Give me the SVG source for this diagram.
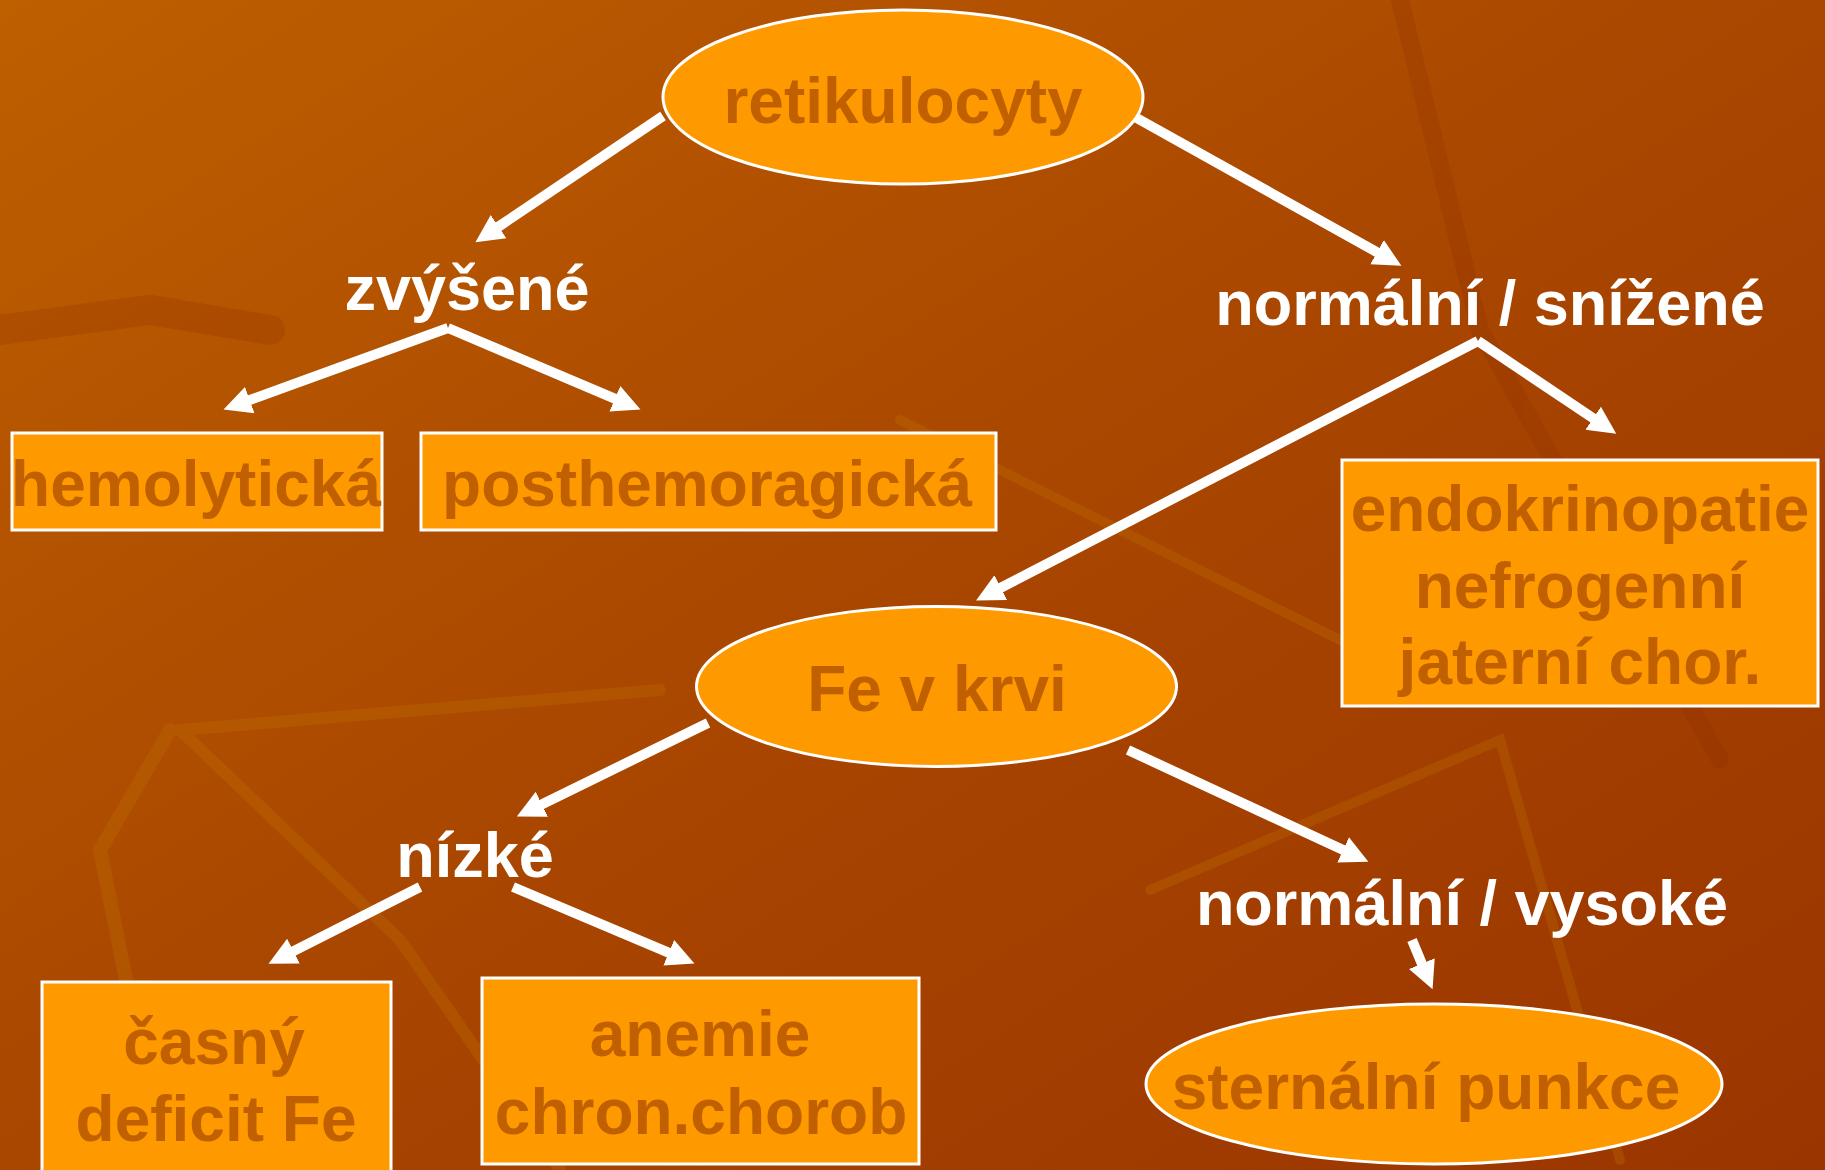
<svg xmlns="http://www.w3.org/2000/svg" width="1825" height="1170" viewBox="0 0 1825 1170">
<defs>
<linearGradient id="bg" x1="0" y1="0" x2="1" y2="1">
<stop offset="0" stop-color="#BE5F00"/>
<stop offset="0.5" stop-color="#A94600"/>
<stop offset="1" stop-color="#9A3500"/>
</linearGradient>
<marker id="ah" markerUnits="userSpaceOnUse" markerWidth="30" markerHeight="30" viewBox="0 -14 28 28" refX="4" refY="0" orient="auto">
<path d="M0,-13 L26,0 L0,13 z" fill="#FFFFFF"/>
</marker>
<style>
.node{fill:#FF9900;stroke:#FFFFFF;stroke-width:3}
.nt{font-family:"Liberation Sans",Arial,sans-serif;font-weight:bold;font-size:64px;fill:#C06000;text-anchor:middle}
.lb{font-family:"Liberation Sans",Arial,sans-serif;font-weight:bold;font-size:63px;fill:#FFFFFF;text-anchor:middle}
.cn{stroke:#FFFFFF;stroke-width:10;fill:none;marker-end:url(#ah)}
</style>
</defs>
<rect x="0" y="0" width="1825" height="1170" fill="url(#bg)"/>
<g id="background-texture" fill="none" stroke-linecap="round" opacity="0.25">
<path d="M0,330 L150,310 L270,330" stroke="#8E2E00" stroke-width="30"/>
<path d="M170,730 L100,850 L130,1000" stroke="#C27A00" stroke-width="14"/>
<path d="M180,730 L400,940 L560,1170" stroke="#C27A00" stroke-width="12"/>
<path d="M180,730 L660,690" stroke="#C27A00" stroke-width="12"/>
<path d="M1400,0 L1480,330 L1720,760" stroke="#8E2E00" stroke-width="18"/>
<path d="M900,420 L1340,640" stroke="#C27A00" stroke-width="10"/>
<path d="M1150,890 L1500,740 L1620,1160" stroke="#C27A00" stroke-width="10"/>
</g>
<g id="connectors">
<line class="cn" x1="663" y1="116" x2="495" y2="229"/>
<line class="cn" x1="1133" y1="116" x2="1380.8" y2="254.3"/>
<line class="cn" x1="448" y1="328" x2="245.7" y2="401.5"/>
<line class="cn" x1="448" y1="328" x2="618.8" y2="400.4"/>
<line class="cn" x1="1478" y1="341" x2="1596.7" y2="420.7"/>
<line class="cn" x1="1478" y1="341" x2="997" y2="589.7"/>
<line class="cn" x1="708" y1="723" x2="538" y2="806.2"/>
<line class="cn" x1="1128" y1="750" x2="1347" y2="851.7"/>
<line class="cn" x1="420" y1="887" x2="289.6" y2="953.1"/>
<line class="cn" x1="513" y1="887" x2="672.7" y2="954.4"/>
<line class="cn" x1="1412" y1="940" x2="1423.5" y2="967.6"/>
</g>
<g id="retikulocyty">
<ellipse class="node" cx="903" cy="97" rx="240" ry="87"/>
<text class="nt" x="903" y="123">retikulocyty</text>
</g>
<g id="zvysene">
<text class="lb" x="467" y="310">zvýšené</text>
</g>
<g id="normalni-snizene">
<text class="lb" x="1490" y="325">normální / snížené</text>
</g>
<g id="hemolyticka">
<rect class="node" x="12" y="433" width="370" height="97"/>
<text class="nt" x="196" y="506">hemolytická</text>
</g>
<g id="posthemoragicka">
<rect class="node" x="421" y="433" width="575" height="97"/>
<text class="nt" x="707" y="506">posthemoragická</text>
</g>
<g id="endokrinopatie">
<rect class="node" x="1342" y="460" width="476" height="246"/>
<text class="nt" x="1580" y="531">endokrinopatie</text>
<text class="nt" x="1580" y="608">nefrogenní</text>
<text class="nt" x="1580" y="684">jaterní chor.</text>
</g>
<g id="fe-v-krvi">
<ellipse class="node" cx="936.5" cy="686.5" rx="240" ry="80"/>
<text class="nt" x="937" y="711">Fe v krvi</text>
</g>
<g id="nizke">
<text class="lb" x="475" y="877">nízké</text>
</g>
<g id="normalni-vysoke">
<text class="lb" x="1462" y="925">normální / vysoké</text>
</g>
<g id="casny-deficit">
<rect class="node" x="42" y="982" width="349" height="200"/>
<text class="nt" x="214" y="1064">časný</text>
<text class="nt" x="216" y="1141">deficit Fe</text>
</g>
<g id="anemie">
<rect class="node" x="482" y="978" width="437" height="186"/>
<text class="nt" x="700" y="1056">anemie</text>
<text class="nt" x="701" y="1134">chron.chorob</text>
</g>
<g id="sternalni-punkce">
<ellipse class="node" cx="1434" cy="1084" rx="288" ry="80"/>
<text class="nt" x="1426" y="1109">sternální punkce</text>
</g>
</svg>
